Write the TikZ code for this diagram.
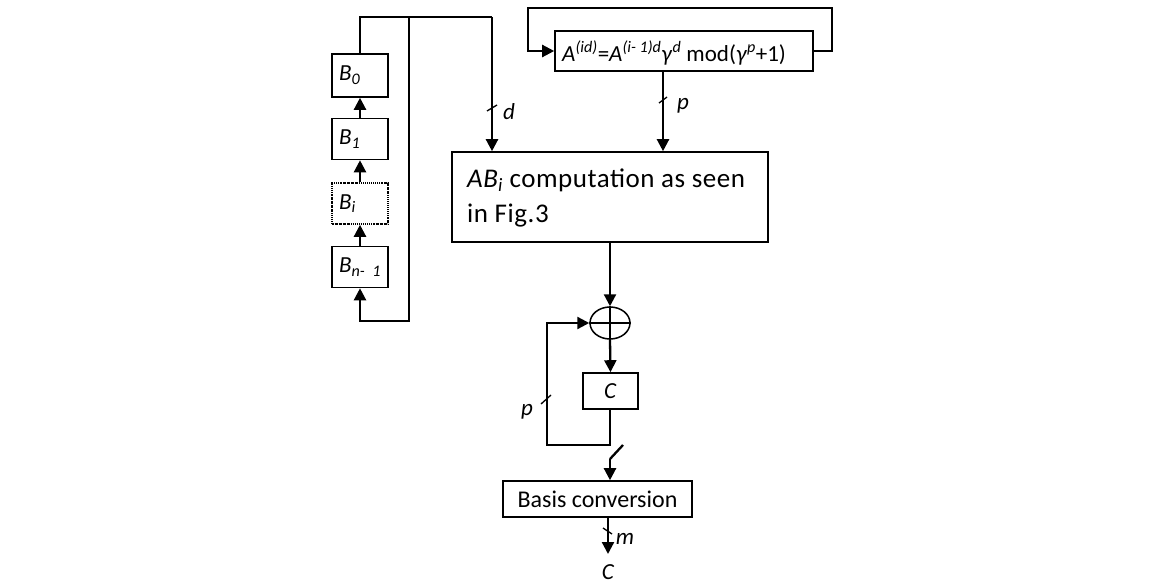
\documentclass[tikz,border=0pt]{standalone}
\usepackage{fontspec}
\setmainfont{Carlito}
\usetikzlibrary{arrows.meta,shapes.geometric}
\begin{document}
\begin{tikzpicture}[x=1pt,y=-1pt,
  box/.style={draw,line width=1.6pt,inner sep=0pt,font=\fontsize{23}{27}\selectfont},
  bbox/.style={box,minimum height=41pt,text width=42pt,inner xsep=7pt,align=left},
  conn/.style={line width=2.3pt},
  arr/.style={conn,-{Triangle[length=12pt,width=12pt]}},
  lbl/.style={font=\fontsize{23}{27}\selectfont\itshape,inner sep=0pt},
  txt/.style={inner sep=0pt,font=\fontsize{27}{32}\selectfont\addfontfeatures{LetterSpace=2}},
  tick/.style={line width=1.3pt}]
\useasboundingbox (0,0) rectangle (1154,583);

% left register column
\node[bbox,minimum height=43pt] (B0) at (360,75.5) {\textit{B\textsubscript{0}}};
\node[bbox] (B1) at (360,139) {\textit{B\textsubscript{1}}};
\node[bbox,dash pattern=on 1.5pt off 1pt on 0.6pt off 1pt] (Bi) at (360,203.5) {\textit{B\textsubscript{i}}};
\node[bbox] (Bn) at (360,267) {\textit{B\textsubscript{n- 1}}};

% top formula box
\node[box,minimum width=258pt,minimum height=40pt] (F) at (684,51) {};
\node[anchor=west,inner sep=0pt,font=\fontsize{23}{27}\selectfont] (Ft) at (562,53)
  {\textit{A}\textsuperscript{\textit{(id)}}=\textit{A}\textsuperscript{\textit{(i- 1)d}}\textit{γ}\textsuperscript{\textit{d}} mod(\textit{γ}\textsuperscript{\textit{p}}+1)};

% main computation box
\node[box,minimum width=316pt,minimum height=90pt] (AB) at (610,197) {};
\node[txt,anchor=base west] (AB1) at (467,187) {\textit{AB\textsubscript{i}} computation as seen};
\node[txt,anchor=base west] (AB2) at (467,222) {in Fig.3};

% xor
\node[draw,ellipse,line width=1.5pt,minimum width=40pt,minimum height=32pt,inner sep=0pt] (X) at (610,323) {};
\draw[line width=1.4pt] (X.north) -- (X.south) (X.west) -- (X.east);

% C register
\node[box,minimum width=55pt,minimum height=36pt] (C) at (610.5,391) {\textit{C}};

% basis conversion
\node[box,minimum width=189pt,minimum height=36pt,font=\fontsize{24}{28}\selectfont] (BC) at (597.5,499) {Basis conversion};

% coordinates
\coordinate (tl) at (360,17);
\coordinate (vt) at (409,17);
\coordinate (tr) at (492,17);
\coordinate (vb) at (409,321);
\coordinate (nb) at (360,321);
\coordinate (Fl) at (528,51);
\coordinate (Fr) at (832,51);
\coordinate (Fp) at (663,71);
\coordinate (ABo) at (610,242);
\coordinate (Cb) at (610,445);
\coordinate (fbl) at (547,445);
\coordinate (fbt) at (547,323);
\coordinate (sw) at (610,459);
\coordinate (swe) at (623,445);
\coordinate (out) at (608,517);
\coordinate (outE) at (608,554);

% register shifting
\draw[arr] (B1.north) -- (B0.south);
\draw[arr] (Bi.north) -- (B1.south);
\draw[arr] (Bn.north) -- (Bi.south);
\draw[conn] (B0.north) -- (tl) -- (tr);
\draw[arr] (vt) -- (vb) -- (nb) -- (Bn.south);
\draw[arr] (tr) -- (tr |- AB.north);

% formula loop
\draw[arr] (F.east) -- (Fr) -- (Fr |- 0,8) -- (Fl |- 0,8) -- (Fl) -- (F.west);
\draw[arr] (Fp) -- (Fp |- AB.north);

% accumulation
\draw[arr] (ABo) -- (X.north);
\draw[arr] (X.south) -- (C.north);
\draw[arr] (C.south -| Cb) -- (Cb) -- (fbl) -- (fbt) -- (X.west);
\draw[conn] (sw) -- (swe);
\draw[arr] (sw) -- (sw |- BC.north);
\draw[arr] (out) -- (outE);

% bus width ticks and labels
\draw[tick] (487,111) -- (497,105);
\node[lbl] (ld) at (509,112) {d};
\draw[tick] (659,103) -- (667,97);
\node[lbl] (lp1) at (683,106) {p};
\draw[tick] (541,404) -- (551,395);
\node[lbl] (lp2) at (527,412) {p};
\draw[tick] (603,528) -- (612,534);
\node[lbl] (lm) at (625,539) {m};
\node[lbl] (lc) at (608,572) {C};
\end{tikzpicture}
\end{document}
